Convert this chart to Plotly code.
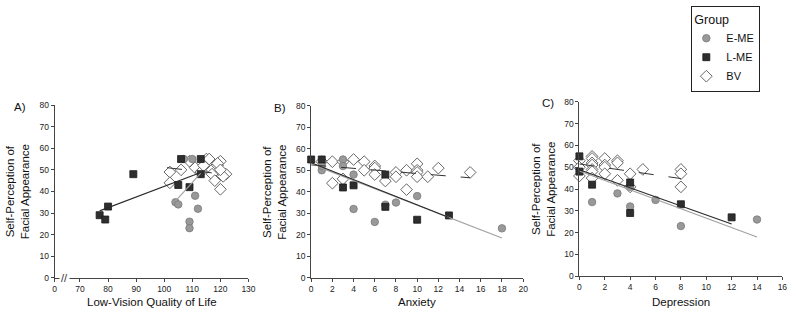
import plotly.graph_objects as go

FONT = "Liberation Sans, Arial, sans-serif"

# ---------------- data ----------------
# Panel A: Low-Vision Quality of Life
A_eme_x = [107, 110, 104, 105, 111, 112, 109, 109]
A_eme_y = [55, 55, 35, 34, 38, 32, 26, 23]
A_lme_x = [77, 79, 80, 89, 105, 106, 109, 113, 113]
A_lme_y = [29, 27, 33, 48, 43, 55, 42, 55, 48]
A_bv_x = [102, 102, 106, 109, 111, 113, 115, 114, 117, 117, 118, 119, 120, 119, 122, 121, 120, 120, 116]
A_bv_y = [49, 44, 50, 54, 51, 49, 55, 52, 50, 48, 45, 52, 54, 53, 48, 47, 41, 50, 55]
A_fit_eme_x = [104, 113]
A_fit_eme_y = [35.5, 48.5]
A_fit_lme_x = [77, 113]
A_fit_lme_y = [31, 48.8]
A_fit_bv_x = [101, 121]
A_fit_bv_y = [51, 48]

# Panel B: Anxiety
B_eme_x = [1, 1, 3, 3, 4, 4, 6, 7, 8, 10, 18]
B_eme_y = [50, 52, 55, 52, 48, 32, 26, 34, 35, 38, 23]
B_lme_x = [0, 1, 3, 4, 7, 7, 10, 13]
B_lme_y = [55, 55, 42, 43, 48, 33, 27, 29]
B_bv_x = [1, 2, 2, 3, 3, 4, 5, 5, 6, 6, 6, 7, 8, 8, 9, 9, 10, 10, 10, 10, 11, 12, 15]
B_bv_y = [54, 54, 44, 54, 46, 55, 54, 50, 52, 51, 48, 45, 49, 47, 50, 41, 53, 50, 49, 47, 47, 51, 49]
B_fit_eme_x = [1, 18]
B_fit_eme_y = [51, 18.5]
B_fit_lme_x = [0, 13]
B_fit_lme_y = [53.5, 28]
B_fit_bv_x = [0, 15]
B_fit_bv_y = [52.5, 46.5]

# Panel C: Depression
C_eme_x = [1, 3, 4, 4, 6, 8, 14]
C_eme_y = [34, 38, 32, 41, 35, 23, 26]
C_lme_x = [0, 0, 1, 4, 4, 8, 12]
C_lme_y = [55, 48, 42, 43, 29, 33, 27]
C_bv_x = [0, 0, 0, 1, 1, 1, 1, 1, 1, 1, 2, 2, 2, 2, 3, 3, 3, 4, 4, 5, 8, 8, 8]
C_bv_y = [53, 50, 46, 55, 54, 52, 51, 49, 48, 45, 54, 51, 50, 47, 53, 52, 44, 47, 41, 49, 49, 47, 41]
C_fit_eme_x = [0, 14]
C_fit_eme_y = [48.3, 18]
C_fit_lme_x = [0, 12]
C_fit_lme_y = [48.8, 24]
C_fit_bv_x = [0, 8]
C_fit_bv_y = [51.5, 44.8]

groups = ["E-ME", "L-ME", "BV"]
y_ticks = [0, 10, 20, 30, 40, 50, 60, 70, 80]
A_ticks = [61, 70, 80, 90, 100, 110, 120, 130]
A_ticktext = ["0", "70", "80", "90", "100", "110", "120", "130"]
B_ticks = list(range(0, 21, 2))
C_ticks = list(range(0, 17, 2))

# ---------------- styles ----------------
EME_M = dict(symbol="circle", size=7.5, color="#999999", line=dict(color="#7a7a7a", width=0.8))
LME_M = dict(symbol="square", size=7, color="#2e2e2e", line=dict(color="#1a1a1a", width=0.8))
BV_M = dict(symbol="diamond", size=9, color="white", line=dict(color="#555555", width=0.9))

fig = go.Figure()

panels = [
    ("x", "y", A_eme_x, A_eme_y, A_lme_x, A_lme_y, A_bv_x, A_bv_y,
     A_fit_eme_x, A_fit_eme_y, A_fit_lme_x, A_fit_lme_y, A_fit_bv_x, A_fit_bv_y),
    ("x2", "y2", B_eme_x, B_eme_y, B_lme_x, B_lme_y, B_bv_x, B_bv_y,
     B_fit_eme_x, B_fit_eme_y, B_fit_lme_x, B_fit_lme_y, B_fit_bv_x, B_fit_bv_y),
    ("x3", "y3", C_eme_x, C_eme_y, C_lme_x, C_lme_y, C_bv_x, C_bv_y,
     C_fit_eme_x, C_fit_eme_y, C_fit_lme_x, C_fit_lme_y, C_fit_bv_x, C_fit_bv_y),
]

for i, (xa, ya, ex, ey, lx, ly, bx, by, fex, fey, flx, fly, fbx, fby) in enumerate(panels):
    first = i == 0
    fig.add_trace(go.Scatter(x=bx, y=by, mode="markers", marker=BV_M, name="BV",
                             legendrank=3, showlegend=first, xaxis=xa, yaxis=ya, cliponaxis=False))
    fig.add_trace(go.Scatter(x=ex, y=ey, mode="markers", marker=EME_M, name="E-ME",
                             legendrank=1, showlegend=first, xaxis=xa, yaxis=ya, cliponaxis=False))
    fig.add_trace(go.Scatter(x=lx, y=ly, mode="markers", marker=LME_M, name="L-ME",
                             legendrank=2, showlegend=first, xaxis=xa, yaxis=ya, cliponaxis=False))
    fig.add_trace(go.Scatter(x=fex, y=fey, mode="lines", line=dict(color="#a0a0a0", width=1.1),
                             showlegend=False, xaxis=xa, yaxis=ya, hoverinfo="skip"))
    fig.add_trace(go.Scatter(x=flx, y=fly, mode="lines", line=dict(color="#2a2a2a", width=1.1),
                             showlegend=False, xaxis=xa, yaxis=ya, hoverinfo="skip"))
    fig.add_trace(go.Scatter(x=fbx, y=fby, mode="lines", line=dict(color="#333333", width=1, dash="longdash"),
                             showlegend=False, xaxis=xa, yaxis=ya, hoverinfo="skip"))

W, H = 796, 318

def px2fx(p):
    return p / W

def py2fy(p):
    return 1 - p / H

axis_common = dict(showgrid=False, zeroline=False, showline=True, linecolor="#444444", linewidth=1,
                   ticks="outside", ticklen=3, tickwidth=1, tickcolor="#444444",
                   tickfont=dict(family=FONT, size=8.5, color="#222222"), fixedrange=True)

fig.update_layout(
    width=W, height=H, margin=dict(l=0, r=0, t=0, b=0),
    paper_bgcolor="white", plot_bgcolor="white",
    font=dict(family=FONT, color="#111111"),
    xaxis=dict(domain=[px2fx(53.3), px2fx(249.3)], range=[61, 130], tickvals=A_ticks, ticktext=A_ticktext,
               anchor="y", **axis_common),
    yaxis=dict(domain=[py2fy(281.7), py2fy(103.3)], range=[0, 80], tickvals=y_ticks, anchor="x", **axis_common),
    xaxis2=dict(domain=[px2fx(312.7), px2fx(527.1)], range=[0, 20], tickvals=B_ticks, anchor="y2", **axis_common),
    yaxis2=dict(domain=[py2fy(281.7), py2fy(104)], range=[0, 80], tickvals=y_ticks, anchor="x2", **axis_common),
    xaxis3=dict(domain=[px2fx(584), px2fx(789.3)], range=[0, 16], tickvals=C_ticks, anchor="y3", **axis_common),
    yaxis3=dict(domain=[py2fy(280), py2fy(100)], range=[0, 80], tickvals=y_ticks, anchor="x3", **axis_common),
    legend=dict(x=px2fx(767), y=py2fy(1.5), xanchor="right", yanchor="top",
                bordercolor="#222222", borderwidth=1, bgcolor="white",
                title=dict(text="Group", font=dict(family=FONT, size=12.5, color="#111111")),
                font=dict(family=FONT, size=11, color="#111111"), tracegroupgap=0, itemwidth=30,
                indentation=-6),
)

ann = []
# panel labels
for txt, xp, yp in [("A)", 18, 105.5), ("B)", 281, 106), ("C)", 552.5, 101)]:
    ann.append(dict(text=txt, x=px2fx(xp), y=py2fy(yp), xref="paper", yref="paper", showarrow=False,
                    xanchor="center", yanchor="middle", font=dict(family=FONT, size=11.5, color="#111111")))
# y axis titles
for xp, yp in [(16, 192.5), (276, 193), (547, 190)]:
    ann.append(dict(text="Self-Perception of<br>Facial Appearance", x=px2fx(xp), y=py2fy(yp),
                    xref="paper", yref="paper", showarrow=False, textangle=-90,
                    xanchor="center", yanchor="middle",
                    font=dict(family=FONT, size=11.5, color="#111111")))
# x axis titles
for txt, xp in [("Low-Vision Quality of Life", 151.5), ("Anxiety", 420), ("Depression", 686.5)]:
    ann.append(dict(text=txt, x=px2fx(xp), y=py2fy(307), xref="paper", yref="paper", showarrow=False,
                    xanchor="center", yanchor="middle", font=dict(family=FONT, size=11.5, color="#111111")))
# axis break marker on panel A
ann.append(dict(text="//", x=64.6, y=0, xref="x", yref="y", showarrow=False, xanchor="center",
                yanchor="middle", font=dict(family=FONT, size=11, color="#333333"), bgcolor="white"))
fig.update_layout(annotations=ann)

fig.write_html("out.html")
